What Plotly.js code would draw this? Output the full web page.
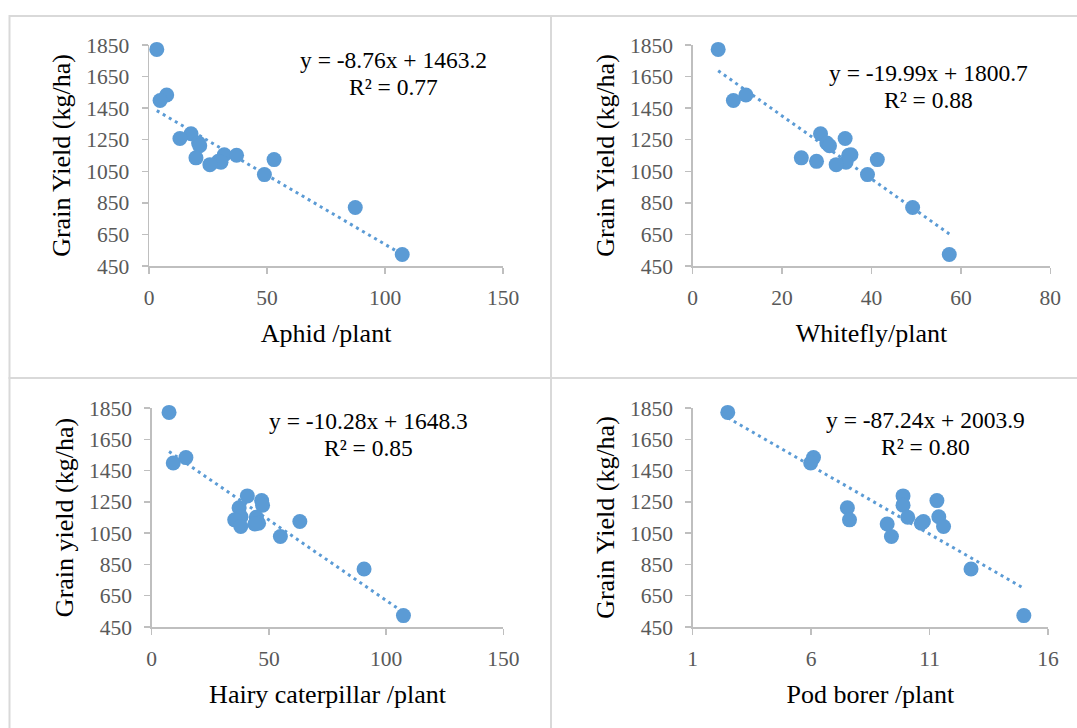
<!DOCTYPE html>
<html>
<head>
<meta charset="utf-8">
<script src="https://cdn.plot.ly/plotly-3.0.1.min.js"></script>
<style>html,body{margin:0;padding:0;background:#fff;}#chart{width:1077px;height:728px;}</style>
</head>
<body>
<div id="chart"></div>
<script>
// Grain yield (kg/ha) shared by all four panels
const yieldKg = [1822, 1533, 1498, 1288, 1258, 1229, 1212, 1155, 1152, 1135, 1124, 1113, 1108, 1092, 1029, 821, 523];
// Insect counts per plant
const aphid       = [3.3, 7.5, 4.7, 17.8, 13.1, 21.0, 21.5, 31.9, 37.1, 19.9, 53.0, 29.4, 30.5, 25.8, 48.9, 87.4, 107.3];
const whitefly    = [5.7, 11.9, 9.1, 28.6, 34.1, 30.0, 30.6, 35.4, 34.9, 24.3, 41.3, 27.7, 34.3, 32.1, 39.1, 49.2, 57.4];
const caterpillar = [7.4, 14.6, 9.2, 40.8, 46.9, 47.3, 37.3, 38.1, 44.6, 35.4, 63.2, 45.6, 44.0, 38.0, 54.9, 90.6, 107.4];
const podBorer    = [2.48, 6.10, 5.98, 9.88, 11.31, 9.88, 7.53, 11.39, 10.08, 7.62, 10.74, 10.65, 9.21, 11.59, 9.39, 12.75, 14.98];
// Trendline equations
const slopes     = [-8.76, -19.99, -10.28, -87.24];
const intercepts = [1463.2, 1800.7, 1648.3, 2003.9];
const r2Labels   = ["0.77", "0.88", "0.85", "0.80"];
const xTitles    = ["Aphid /plant", "Whitefly/plant", "Hairy caterpillar /plant", "Pod borer /plant"];
const yTitles    = ["Grain Yield (kg/ha)", "Grain Yield (kg/ha)", "Grain yield (kg/ha)", "Grain Yield (kg/ha)"];
const xRanges    = [[0, 150], [0, 80], [0, 150], [1, 16]];
const xDticks    = [50, 20, 50, 5];
const yRange     = [450, 1850];

const W = 1077, H = 728;
const blue = '#5b9bd5';
const serif = 'Liberation Serif, Times New Roman, serif';
const xs = [aphid, whitefly, caterpillar, podBorer];
// panel plot areas in pixels [x0, x1, yTop, yBottom]
const boxes = [[149, 503, 45, 266], [692.7, 1050.3, 45, 266], [151.7, 503.3, 408, 627], [692.7, 1048, 408, 627]];
// equation text centres [x, y1, y2]
const eqPos = [[393, 60, 87], [928, 73, 100], [368, 421, 448], [925, 420, 447]];

const data = [];
const layout = {
  width: W, height: H,
  margin: {l: 0, r: 0, t: 0, b: 0},
  paper_bgcolor: '#fff', plot_bgcolor: 'rgba(0,0,0,0)',
  showlegend: false,
  font: {family: serif, color: '#000'},
  annotations: [], shapes: []
};

for (let i = 0; i < 4; i++) {
  const n = i + 1;
  const xa = 'x' + (n === 1 ? '' : n), ya = 'y' + (n === 1 ? '' : n);
  const xk = 'xaxis' + (n === 1 ? '' : n), yk = 'yaxis' + (n === 1 ? '' : n);
  const xv = xs[i];
  const xmin = Math.min(...xv), xmax = Math.max(...xv);
  data.push({
    x: [xmin, xmax],
    y: [slopes[i] * xmin + intercepts[i], slopes[i] * xmax + intercepts[i]],
    xaxis: xa, yaxis: ya, type: 'scatter', mode: 'lines',
    line: {color: blue, width: 3, dash: '3px,4px'}, hoverinfo: 'skip', cliponaxis: false
  });
  data.push({
    x: xv, y: yieldKg, xaxis: xa, yaxis: ya, type: 'scatter', mode: 'markers',
    marker: {color: blue, size: 15}, cliponaxis: false
  });
  const b = boxes[i];
  layout[xk] = {
    domain: [b[0] / W, b[1] / W], anchor: ya, range: xRanges[i],
    tick0: xRanges[i][0], dtick: xDticks[i], showgrid: false, zeroline: false,
    showline: true, linecolor: '#bfbfbf', linewidth: 1.5,
    ticks: 'outside', ticklen: 6, tickcolor: '#bfbfbf', tickwidth: 1.5,
    tickfont: {family: serif, size: 21.5, color: '#595959'}, ticklabelstandoff: 6,
    title: {text: xTitles[i], font: {family: serif, size: 26, color: '#000'}, standoff: 14},
    fixedrange: true
  };
  layout[yk] = {
    domain: [1 - b[3] / H, 1 - b[2] / H], anchor: xa, range: yRange,
    tick0: 450, dtick: 200, showgrid: false, zeroline: false,
    showline: true, linecolor: '#bfbfbf', linewidth: 1.5,
    ticks: 'outside', ticklen: 6, tickcolor: '#bfbfbf', tickwidth: 1.5,
    tickfont: {family: serif, size: 21.5, color: '#595959'}, ticklabelstandoff: 8,
    title: {text: yTitles[i], font: {family: serif, size: 26, color: '#000'}, standoff: 8},
    fixedrange: true
  };
  const e = eqPos[i];
  layout.annotations.push({
    xref: 'paper', yref: 'paper', x: e[0] / W, y: 1 - e[1] / H, xanchor: 'center', yanchor: 'middle',
    text: 'y = ' + slopes[i].toFixed(2) + 'x + ' + intercepts[i].toFixed(1), showarrow: false,
    font: {family: serif, size: 23.5, color: '#000'}
  });
  layout.annotations.push({
    xref: 'paper', yref: 'paper', x: e[0] / W, y: 1 - e[2] / H, xanchor: 'center', yanchor: 'middle',
    text: 'R² = ' + r2Labels[i], showarrow: false,
    font: {family: serif, size: 23.5, color: '#000'}
  });
}

// cell borders of the figure grid
const cells = [[9.5, 16, 551, 378], [551, 16, 1100, 378], [9.5, 378, 551, 760], [551, 378, 1100, 760]];
cells.forEach(c => layout.shapes.push({
  type: 'rect', xref: 'paper', yref: 'paper', x0: c[0] / W, x1: c[2] / W, y0: 1 - c[1] / H, y1: 1 - c[3] / H,
  line: {color: '#d9d9d9', width: 2}, layer: 'below'
}));

Plotly.newPlot('chart', data, layout, {displayModeBar: false, staticPlot: true});
</script>
</body>
</html>
